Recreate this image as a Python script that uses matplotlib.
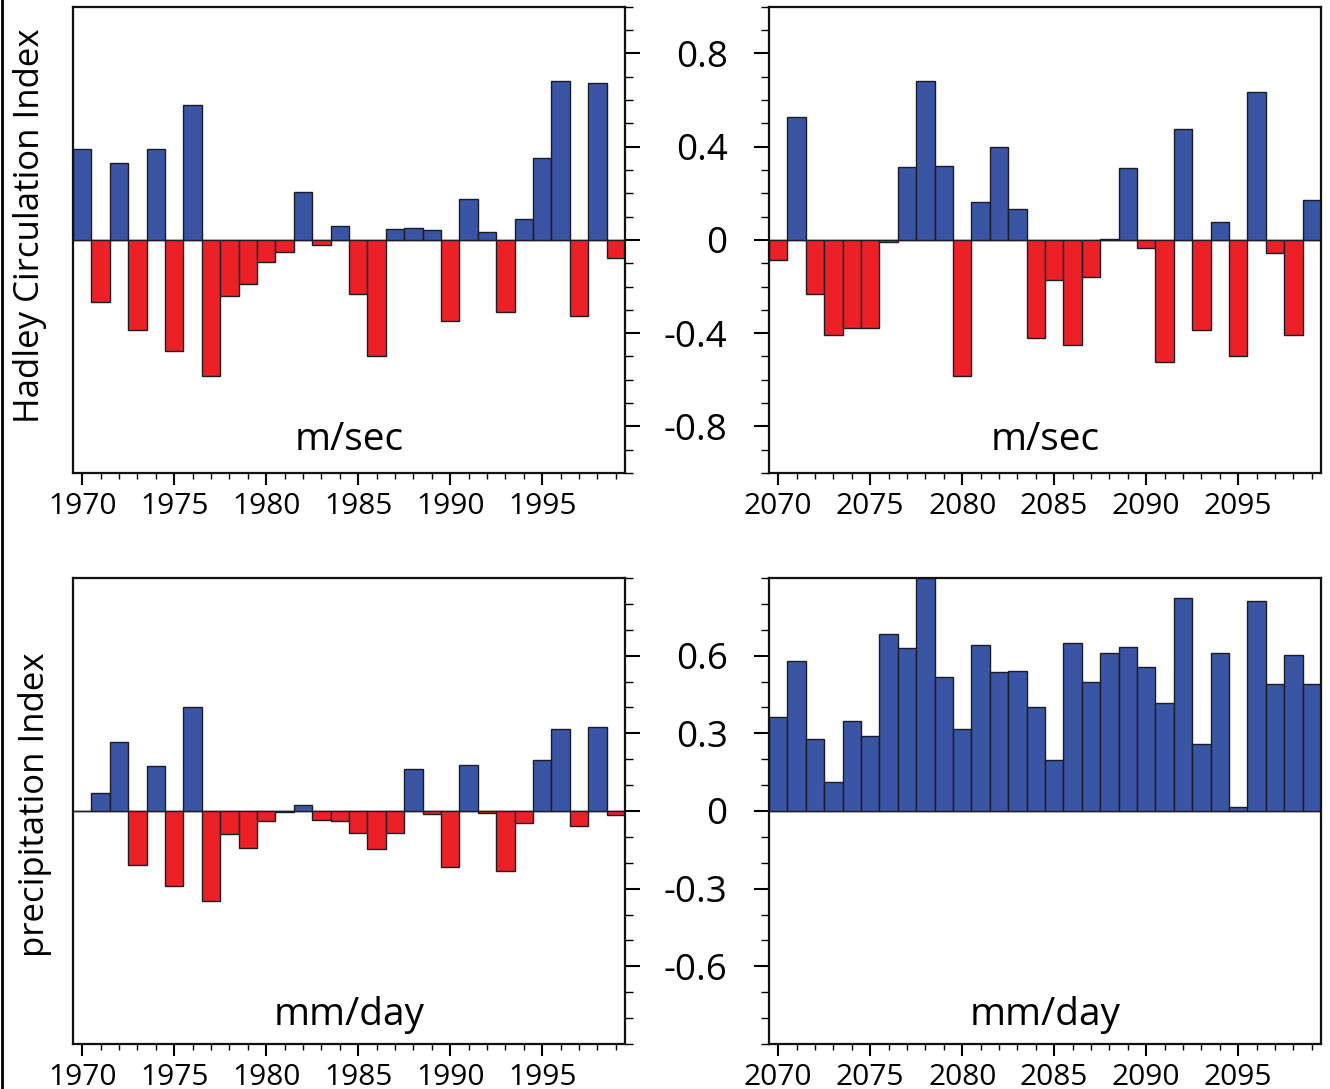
"""
Hadley circulation and precipitation indices, 20th century vs. late 21st century
"""
import numpy as np
import matplotlib
matplotlib.use('Agg')
import matplotlib.pyplot as plt
from matplotlib.ticker import MultipleLocator, FixedLocator
from matplotlib.lines import Line2D

plt.rcParams['font.family'] = ['Open Sans', 'DejaVu Sans']

# years
years_past = np.arange(1970, 2000)
years_future = np.arange(2070, 2100)

# Hadley circulation index (m/sec)
hadley_past = [0.39, -0.265, 0.33, -0.386, 0.39, -0.476, 0.58, -0.583, -0.24, -0.19,
               -0.093, -0.05, 0.207, -0.021, 0.06, -0.23, -0.50, 0.047, 0.053, 0.043,
               -0.35, 0.176, 0.034, -0.31, 0.09, 0.35, 0.68, -0.325, 0.673, -0.076]
hadley_future = [-0.086, 0.526, -0.23, -0.407, -0.377, -0.377, -0.01, 0.313, 0.68, 0.317,
                 -0.583, 0.163, 0.40, 0.134, -0.42, -0.17, -0.45, -0.159, 0.003, 0.309,
                 -0.036, -0.523, 0.474, -0.386, 0.077, -0.50, 0.634, -0.057, -0.41, 0.173]

# precipitation index (mm/day)
precip_past = [0.0, 0.07, 0.266, -0.208, 0.174, -0.29, 0.40, -0.347, -0.089, -0.143,
               -0.039, -0.004, 0.025, -0.036, -0.037, -0.084, -0.148, -0.084, 0.163, -0.013,
               -0.216, 0.179, -0.008, -0.232, -0.046, 0.198, 0.317, -0.057, 0.323, -0.017]
precip_future = [0.363, 0.579, 0.278, 0.113, 0.347, 0.29, 0.683, 0.63, 0.9, 0.517,
                 0.317, 0.641, 0.538, 0.542, 0.40, 0.198, 0.65, 0.50, 0.61, 0.633,
                 0.556, 0.418, 0.821, 0.26, 0.61, 0.017, 0.812, 0.49, 0.603, 0.49]

# tick values shown on the y axes
hadley_ticks = [-0.8, -0.4, 0, 0.4, 0.8]
precip_ticks = [-0.6, -0.3, 0, 0.3, 0.6]

blue = '#3a55a4'
red = '#ec2027'


def draw_bars(ax, years, values, xlim):
    """bar chart coloured by sign"""
    values = np.array(values)
    colors = [blue if v >= 0 else red for v in values]
    ax.bar(years, values, width=1.0, color=colors, edgecolor='#1c1c28', linewidth=1.0)
    ax.axhline(0, color='black', linewidth=1.0, zorder=0.5)
    ax.set_xlim(xlim)
    ax.xaxis.set_major_locator(MultipleLocator(5))
    ax.xaxis.set_minor_locator(MultipleLocator(1))
    ax.tick_params(axis='x', which='major', direction='out', length=8.5, width=1.5,
                   labelsize=21.5, pad=5, top=False)
    ax.tick_params(axis='x', which='minor', direction='out', length=4.5, width=1.0, top=False)
    for s in ax.spines.values():
        s.set_linewidth(1.6)
        s.set_color('#111111')


fig = plt.figure(figsize=(13.3, 10.89), dpi=100)

left_l, left_r = 0.0549, 0.5782
width = 0.415
top_b, bot_b = 0.5657, 0.0413
height = 0.428

ax1 = fig.add_axes([left_l, top_b, width, height])
ax2 = fig.add_axes([left_r, top_b, width, height])
ax3 = fig.add_axes([left_l, bot_b, width, height])
ax4 = fig.add_axes([left_r, bot_b, width, height])

draw_bars(ax1, years_past, hadley_past, (1969.5, 1999.5))
draw_bars(ax2, years_future, hadley_future, (2069.5, 2099.5))
draw_bars(ax3, years_past, precip_past, (1969.5, 1999.5))
draw_bars(ax4, years_future, precip_future, (2069.5, 2099.5))

for ax in (ax1, ax2):
    ax.set_ylim(-1.0, 1.0)
    ax.yaxis.set_major_locator(FixedLocator(hadley_ticks))
    ax.yaxis.set_minor_locator(MultipleLocator(0.1))
for ax in (ax3, ax4):
    ax.set_ylim(-0.9, 0.9)
    ax.yaxis.set_major_locator(FixedLocator(precip_ticks))
    ax.yaxis.set_minor_locator(MultipleLocator(0.1))

# left panels: ticks on the right side, no labels
for ax in (ax1, ax3):
    ax.tick_params(axis='y', which='major', direction='out', length=10.8, width=1.5,
                   left=False, right=True, labelleft=False, labelright=False)
    ax.tick_params(axis='y', which='minor', direction='out', length=5.8, width=1.0,
                   left=False, right=True)

# right panels: ticks and labels on the left side
for ax in (ax2, ax4):
    ax.tick_params(axis='y', which='major', direction='out', length=10.8, width=1.5,
                   left=True, right=False, labelleft=True, labelsize=26.5, pad=19)
    ax.tick_params(axis='y', which='minor', direction='out', length=5.8, width=1.0,
                   left=True, right=False)
    ax.yaxis.set_major_formatter(plt.FuncFormatter(
        lambda v, p: '0' if abs(v) < 1e-9 else ('%g' % round(v, 1))))

# units text inside each panel
ax1.text(0.5, 0.05, 'm/sec', transform=ax1.transAxes, ha='center', va='baseline', fontsize=28)
ax2.text(0.5, 0.05, 'm/sec', transform=ax2.transAxes, ha='center', va='baseline', fontsize=28)
ax3.text(0.5, 0.04, 'mm/day', transform=ax3.transAxes, ha='center', va='baseline', fontsize=28)
ax4.text(0.5, 0.04, 'mm/day', transform=ax4.transAxes, ha='center', va='baseline', fontsize=28)

# row labels
fig.text(30 / 1330, 1 - 226 / 1089, 'Hadley Circulation Index', rotation=90,
         ha='center', va='center', fontsize=25)
fig.text(35 / 1330, 1 - 805 / 1089, 'precipitation Index', rotation=90,
         ha='center', va='center', fontsize=25)

# thin border line on the left edge
fig.add_artist(Line2D([0.0012, 0.0012], [0, 1], transform=fig.transFigure,
                      color='black', linewidth=2))

fig.savefig('out.png', dpi=100)
